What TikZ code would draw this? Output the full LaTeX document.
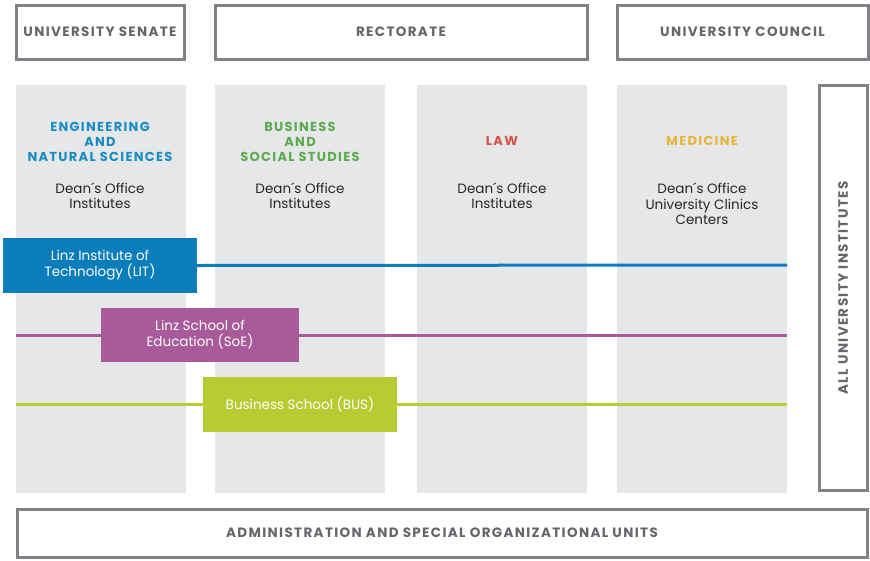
\documentclass[tikz,border=0pt]{standalone}
\usepackage{fontspec}
\setmainfont{Poppins}
\newfontfamily\capsfont[LetterSpace=10]{Poppins}
\usetikzlibrary{positioning}
\definecolor{framegray}{RGB}{128,130,135}
\definecolor{textgray}{RGB}{100,102,106}
\definecolor{colgray}{RGB}{230,231,232}
\definecolor{litblue}{RGB}{10,125,186}
\definecolor{soepurple}{RGB}{168,90,155}
\definecolor{buslime}{RGB}{183,204,50}
\definecolor{engblue}{RGB}{26,140,196}
\definecolor{busgreen}{RGB}{92,170,78}
\definecolor{lawred}{RGB}{214,84,74}
\definecolor{medyellow}{RGB}{232,181,58}
\tikzset{
  body/.style={draw=framegray, line width=3pt, fill=white, inner sep=0pt,
    font=\fontsize{13.5}{15}\selectfont\capsfont\bfseries, text=textgray},
  faculty/.style={fill=colgray, inner sep=0pt, anchor=north west},
  fachead/.style={font=\fontsize{13}{15}\selectfont\capsfont\bfseries, align=center},
  facunits/.style={font=\fontsize{13.5}{15.5}\selectfont, align=center, text=black!85},
  school/.style={inner sep=0pt, text=white, align=center,
    font=\fontsize{13.5}{16}\selectfont},
  link/.style={line width=3pt}
}
\begin{document}
\begin{tikzpicture}[x=1pt,y=-1pt]
  \useasboundingbox (0,0) rectangle (870,560);
  % governing bodies
  \node[body, minimum width=168, minimum height=54] (senate) at (100,32) {UNIVERSITY SENATE};
  \node[body, minimum width=372, minimum height=54] (rectorate) at (401,32) {RECTORATE};
  \node[body, minimum width=251, minimum height=54] (council) at (742.5,32) {UNIVERSITY COUNCIL};
  % faculties
  \node[faculty, minimum width=170, minimum height=408] (eng) at (16,85) {};
  \node[faculty, minimum width=170, minimum height=408] (bss) at (215,85) {};
  \node[faculty, minimum width=170, minimum height=408] (law) at (417,85) {};
  \node[faculty, minimum width=170, minimum height=408] (med) at (617,85) {};
  \node[fachead, text=engblue] (engT) at (100,142) {ENGINEERING\\AND\\NATURAL SCIENCES};
  \node[fachead, text=busgreen] (bssT) at (300,142) {BUSINESS\\AND\\SOCIAL STUDIES};
  \node[fachead, text=lawred] (lawT) at (502,141) {LAW};
  \node[fachead, text=medyellow] (medT) at (702,141) {MEDICINE};
  \node[facunits] (engU) at (100,196) {Dean´s Office\\Institutes};
  \node[facunits] (bssU) at (300,196) {Dean´s Office\\Institutes};
  \node[facunits] (lawU) at (502,196) {Dean´s Office\\Institutes};
  \node[facunits] (medU) at (702,204) {Dean´s Office\\University Clinics\\Centers};
  % all institutes and administration
  \node[body, minimum width=48, minimum height=405] (inst) at (843,288) {};
  \node[rotate=90, font=\fontsize{13.5}{15}\selectfont\capsfont\bfseries, text=textgray] (instT) at (inst) {ALL UNIVERSITY INSTITUTES};
  \node[body, minimum width=850, minimum height=48] (admin) at (442,533) {ADMINISTRATION AND SPECIAL ORGANIZATIONAL UNITS};
  % cross-faculty schools
  \coordinate (litR) at (787,265);
  \coordinate (soeL) at (16,335);
  \coordinate (soeR) at (787,335);
  \coordinate (busL) at (16,404);
  \coordinate (busR) at (787,404);
  \draw[link, soepurple] (soeL) -- (soeR);
  \draw[link, buslime] (busL) -- (busR);
  \node[school, fill=litblue, minimum width=194, minimum height=55] (lit) at (100,265.5) {Linz Institute of\\Technology (LIT)};
  \node[school, fill=soepurple, minimum width=198, minimum height=54] (soe) at (200,335) {Linz School of\\Education (SoE)};
  \node[school, fill=buslime, minimum width=194, minimum height=55] (bus) at (300,404.5) {Business School (BUS)};
  \draw[link, litblue] (lit.east) -- (litR);
\end{tikzpicture}
\end{document}
